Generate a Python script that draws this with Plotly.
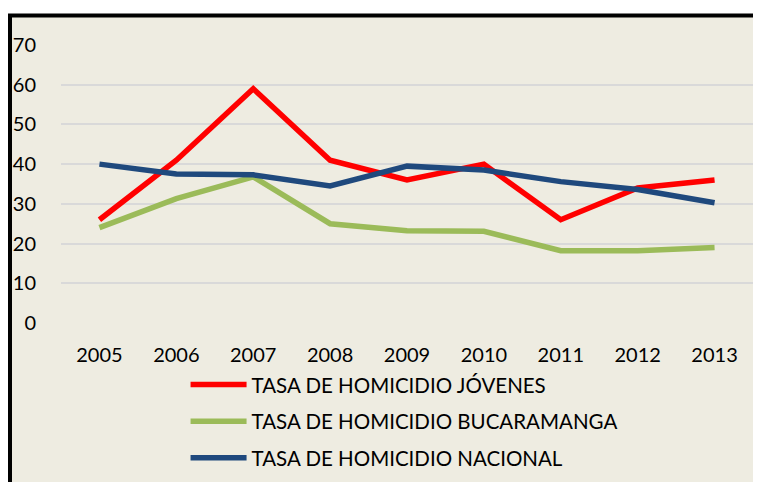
import plotly.graph_objects as go

# years on the category axis
years = ["2005", "2006", "2007", "2008", "2009", "2010", "2011", "2012", "2013"]

# homicide rates
tasa_jovenes = [26, 41, 59, 41, 36, 40, 26, 34, 36]
tasa_bucaramanga = [24, 31.3, 36.8, 25, 23.2, 23.1, 18.2, 18.2, 19]
tasa_nacional = [40, 37.5, 37.3, 34.5, 39.5, 38.5, 35.6, 33.6, 30.3]

series_names = ["TASA DE HOMICIDIO JÓVENES",
                "TASA DE HOMICIDIO BUCARAMANGA",
                "TASA DE HOMICIDIO NACIONAL"]
series_colors = ["#FF0000", "#9BBB59", "#1F497D"]

FONT = "Lato"
BG = "#EEECE1"

fig = go.Figure()
for name, vals, col in zip(series_names,
                           [tasa_jovenes, tasa_bucaramanga, tasa_nacional],
                           series_colors):
    fig.add_trace(go.Scatter(
        x=years, y=vals, name=name, mode="lines",
        line=dict(color=col, width=5.5),
        legendgroup=name,
    ))

# page body keeps its 8px margin, so the figure is sized to end at the window edge
fig.update_layout(
    width=753, height=474,
    margin=dict(l=53, r=8, t=37, b=159, autoexpand=False),
    paper_bgcolor="white",
    plot_bgcolor=BG,
    font=dict(family=FONT, size=20, color="black"),
    showlegend=True,
    legend=dict(
        orientation="v", x=0.180, xanchor="left", y=-0.15, yanchor="top",
        bgcolor="rgba(0,0,0,0)", font=dict(family=FONT, size=20.5),
        tracegroupgap=7, itemwidth=56,
    ),
    xaxis=dict(
        type="category", range=[-0.5, 8.5],
        showgrid=False, zeroline=False, showline=False,
        ticks="", ticklabelstandoff=18,
    ),
    yaxis=dict(
        range=[0, 70], dtick=10,
        showgrid=True, gridcolor="#D9D9D9", gridwidth=2,
        zeroline=False, showline=False,
        ticks="", ticklabelstandoff=24,
    ),
    # chart area with the heavy black frame on the left and top
    shapes=[dict(
        type="rect", xref="paper", yref="paper", layer="below",
        x0=-0.0737, x1=1.1, y0=-0.7, y1=1.106,
        fillcolor=BG, line=dict(color="black", width=4),
    )],
)

fig.write_html("out.html")
